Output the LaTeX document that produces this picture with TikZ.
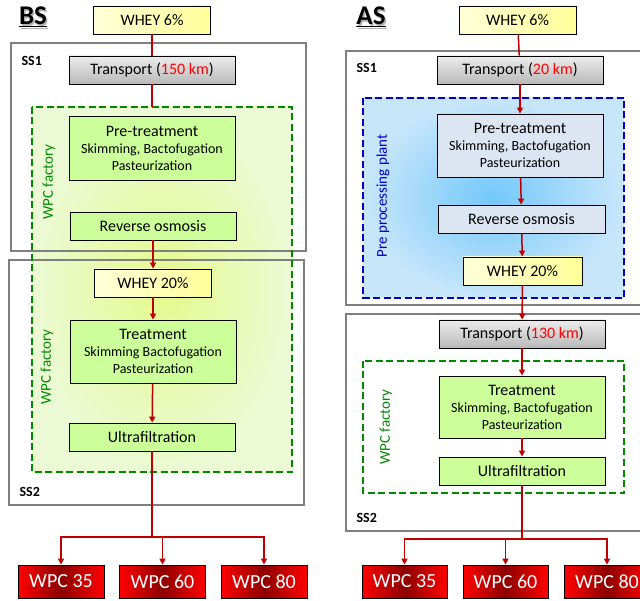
\documentclass[tikz,border=0pt]{standalone}
\usepackage{fontspec}
\setmainfont{Carlito}
\usepackage{xcolor}
\usetikzlibrary{arrows.meta,calc,positioning}
\definecolor{flowred}{HTML}{C00000}
\definecolor{sysgray}{HTML}{7F7F7F}
\definecolor{boxgreen}{HTML}{CCFF99}
\definecolor{boxblue}{HTML}{DCE6F2}
\definecolor{wheylo}{HTML}{FFFFD8}
\definecolor{wheyhi}{HTML}{FFFF99}
\definecolor{facgreen}{HTML}{008A00}
\definecolor{ppblue}{HTML}{0000C8}
\newcommand{\bigtxt}[1]{{\fontsize{16}{17}\selectfont #1}}

\begin{document}
\begin{tikzpicture}[x=1pt,y=-1pt,
  box/.style={draw=black,line width=0.8pt,minimum width=166pt,minimum height=28pt,
    inner sep=0pt,align=center,font=\fontsize{14}{17}\selectfont},
  greenbox/.style={box,fill=boxgreen},
  bluebox/.style={box,fill=boxblue},
  wheybox/.style={box,minimum width=117pt,left color=wheylo,right color=wheyhi},
  transbox/.style={box,shading angle=60,top color=gray!15,bottom color=gray!55},
  wpcbox/.style={draw=black,line width=0.8pt,minimum width=86pt,minimum height=33pt,
    inner sep=0pt,left color=red,right color=red,middle color=red!55!black,
    text=white,font=\fontsize{20}{22}\selectfont},
  sysbox/.style={draw=sysgray,line width=2pt},
  facbox/.style={draw=facgreen,line width=2.5pt,dash pattern=on 7pt off 3.5pt},
  flow/.style={draw=flowred,line width=1.5pt},
  flowarr/.style={flow,-{Triangle[length=6pt,width=6pt]}},
  sslabel/.style={anchor=west,font=\bfseries\fontsize{14}{15}\selectfont},
  sidelabel/.style={rotate=90,font=\fontsize{15}{16}\selectfont},
  title/.style={font=\bfseries\fontsize{27}{28}\selectfont}
]
  \clip (0,0) rectangle (640,601);

  % ---------- BS ----------
  \shade[inner color={rgb,255:red,228;green,250;blue,140},outer color={rgb,255:red,235;green,250;blue,212}]
    (32,107) rectangle (292,472);
  \draw[sysbox] (11,43) rectangle (306,251);
  \draw[sysbox] (9,260) rectangle (304,505);
  \draw[facbox] (32,107) rectangle (292,472);
  \node[title,text=gray!60] (bsShadow) at (34.5,18.5) {\underline{BS}};
  \node[title] (bsTitle) at (33,17) {\underline{BS}};
  \node[sslabel] (ss1L) at (18,61) {SS1};
  \node[sslabel] (ss2L) at (16,492) {SS2};
  \node[sidelabel,text=facgreen] (facL1) at (49,182) {WPC factory};
  \node[sidelabel,text=facgreen] (facL2) at (47,367) {WPC factory};

  \node[wheybox] (whey6L) at (152,20) {\bigtxt{WHEY 6\%}};
  \node[transbox] (transL) at (152,70) {\bigtxt{Transport (\textcolor{red}{150 km})}};
  \node[greenbox,minimum height=64pt] (preL) at (152,148)
    {\bigtxt{Pre-treatment}\\Skimming, Bactofugation\\Pasteurization};
  \node[greenbox] (roL) at (153,226) {\bigtxt{Reverse osmosis}};
  \node[wheybox] (whey20L) at (153,283) {\bigtxt{WHEY 20\%}};
  \node[greenbox,minimum height=63pt] (treatL) at (153,351.5)
    {\bigtxt{Treatment}\\Skimming Bactofugation\\Pasteurization};
  \node[greenbox] (ufL) at (152,437) {\bigtxt{Ultrafiltration}};
  \node[wpcbox] (wpc35L) at (61,581.5) {WPC 35};
  \node[wpcbox] (wpc60L) at (162.5,581.5) {WPC 60};
  \node[wpcbox] (wpc80L) at (264,581.5) {WPC 80};

  \coordinate (facTopL) at (152,107);
  \coordinate (brL) at (152,537);
  \draw[flow] (whey6L) -- (transL);
  \draw[flow] (transL) -- (facTopL);
  \draw[flowarr] (roL) -- (whey20L);
  \draw[flowarr] (whey20L) -- (treatL);
  \draw[flowarr] (treatL) -- (ufL);
  \draw[flow] (ufL) -- (brL);
  \draw[flowarr] (brL) -| (wpc35L);
  \draw[flowarr] (brL) -| (wpc60L);
  \draw[flowarr] (brL) -| (wpc80L);

  % ---------- AS ----------
  \shade[inner color={rgb,255:red,115;green,200;blue,250},outer color={rgb,255:red,200;green,230;blue,250}]
    (363,98) rectangle (624,298);
  \draw[sysbox] (346,51) rectangle (660,305);
  \draw[sysbox] (346,314) rectangle (660,531);
  \draw[facbox,draw=ppblue] (363,98) rectangle (624,298);
  \draw[facbox] (363,361) rectangle (624,493);
  \node[title,text=gray!60] (asShadow) at (372.5,18.5) {\underline{AS}};
  \node[title] (asTitle) at (371,17) {\underline{AS}};
  \node[sslabel] (ss1R) at (353,68) {SS1};
  \node[sslabel] (ss2R) at (353,518) {SS2};
  \node[sidelabel,text=ppblue] (ppR) at (383,196) {Pre processing plant};
  \node[sidelabel,text=facgreen] (facR) at (386,427) {WPC factory};

  \node[wheybox] (whey6R) at (517.5,20) {\bigtxt{WHEY 6\%}};
  \node[transbox] (transR) at (520,70) {\bigtxt{Transport (\textcolor{red}{20 km})}};
  \node[bluebox,minimum height=63pt] (preR) at (520,145.5)
    {\bigtxt{Pre-treatment}\\Skimming, Bactofugation\\Pasteurization};
  \node[bluebox,minimum width=167pt] (roR) at (521.5,219) {\bigtxt{Reverse osmosis}};
  \node[wheybox,minimum width=119pt] (whey20R) at (522.5,271) {\bigtxt{WHEY 20\%}};
  \node[transbox] (trans2R) at (522,334) {\bigtxt{Transport (\textcolor{red}{130 km})}};
  \node[greenbox,minimum height=62pt] (treatR) at (522,407)
    {\bigtxt{Treatment}\\Skimming, Bactofugation\\Pasteurization};
  \node[greenbox] (ufR) at (522,471) {\bigtxt{Ultrafiltration}};
  \node[wpcbox,minimum width=85pt] (wpc35R) at (404.5,581.5) {WPC 35};
  \node[wpcbox,minimum width=85pt] (wpc60R) at (505.5,581.5) {WPC 60};
  \node[wpcbox] (wpc80R) at (607,581.5) {WPC 80};

  \coordinate (brR) at (522,539);
  \draw[flow] (whey6R) -- (transR);
  \draw[flowarr] (transR) -- (preR);
  \draw[flowarr] (preR) -- (roR);
  \draw[flowarr] (roR) -- (whey20R);
  \draw[flowarr] (whey20R) -- (trans2R);
  \draw[flowarr] (trans2R) -- (treatR);
  \draw[flowarr] (treatR) -- (ufR);
  \draw[flow] (ufR) -- (brR);
  \draw[flowarr] (brR) -| (wpc35R);
  \draw[flowarr] (brR) -| (wpc60R);
  \draw[flowarr] (brR) -| (wpc80R);
\end{tikzpicture}
\end{document}
